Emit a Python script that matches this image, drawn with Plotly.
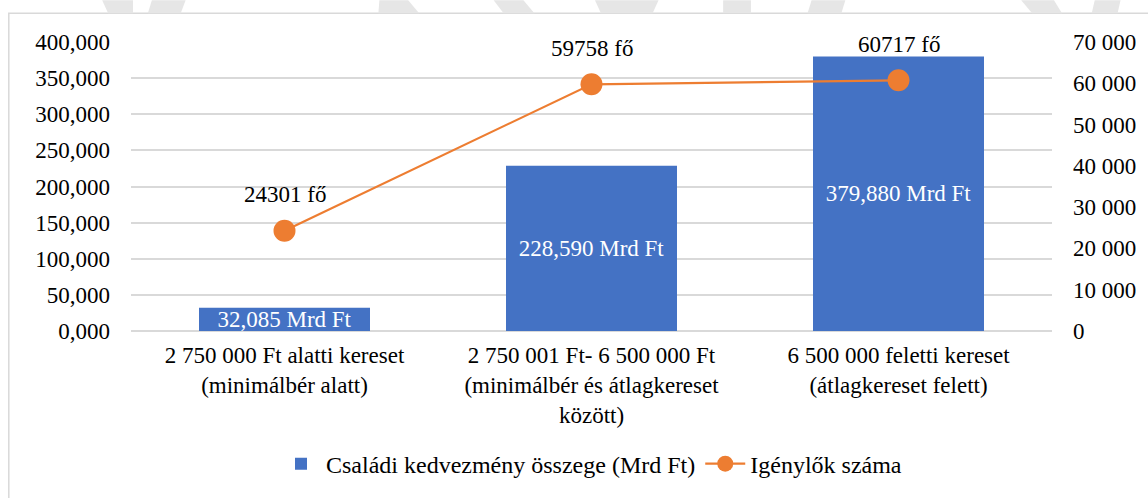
import plotly.graph_objects as go

# ---- data ----
categories = [
    "2 750 000 Ft alatti kereset<br>(minimálbér alatt)",
    "2 750 001 Ft- 6 500 000 Ft<br>(minimálbér és átlagkereset<br>között)",
    "6 500 000 feletti kereset<br>(átlagkereset felett)",
]
bar_values = [32.085, 228.590, 379.880]
bar_labels = ["32,085 Mrd Ft", "228,590 Mrd Ft", "379,880 Mrd Ft"]
line_values = [24301, 59758, 60717]
line_labels = ["24301 fő", "59758 fő", "60717 fő"]

left_tickvals = [0, 50, 100, 150, 200, 250, 300, 350, 400]
left_ticktext = ["0,000", "50,000", "100,000", "150,000", "200,000",
                 "250,000", "300,000", "350,000", "400,000"]
right_tickvals = [0, 10000, 20000, 30000, 40000, 50000, 60000, 70000]
right_ticktext = ["0", "10 000", "20 000", "30 000", "40 000",
                  "50 000", "60 000", "70 000"]

bar_name = "Családi kedvezmény összege (Mrd Ft)"
line_name = "Igénylők száma"

# ---- layout constants ----
W, H = 1148, 498
ML, MR, MT, MB = 131, 90, 42, 165
PW, PH = W - ML - MR, H - MT - MB
FONT = "Liberation Serif"
FS = 23


def px_x(x):
    return (x - ML) / PW


def px_y(y):
    return (H - MB - y) / PH


fig = go.Figure()
fig.add_trace(go.Bar(
    x=categories, y=bar_values, name=bar_name,
    marker=dict(color="#4472C4", line=dict(width=0)),
    text=bar_labels, textposition="inside", insidetextanchor="middle",
    textfont=dict(color="white", size=FS, family=FONT),
    width=0.557, yaxis="y", cliponaxis=False,
))
fig.add_trace(go.Scatter(
    x=categories, y=line_values, name=line_name, yaxis="y2",
    mode="lines+markers",
    line=dict(color="#ED7D31", width=2.2),
    marker=dict(color="#ED7D31", size=22),
    cliponaxis=False,
))

annotations = [
    dict(x=c, y=v, xref="x", yref="y2", text=t, showarrow=False,
         yshift=36, font=dict(size=FS, family=FONT, color="black"))
    for c, v, t in zip(categories, line_values, line_labels)
]

# decorative border and watermark fragments
shapes = [dict(type="rect", xref="paper", yref="paper",
               x0=px_x(8), x1=px_x(1160), y0=px_y(13), y1=px_y(510),
               line=dict(color="#d9d9d9", width=1.5), layer="below")]
blobs = [(102, 133, 108, 133), (152, 186, 148, 181), (381, 410, 380, 421),
         (496, 526, 506, 537), (598, 662, 604, 656), (727, 755, 727, 755),
         (816, 850, 812, 846), (1027, 1060, 1038, 1068), (1101, 1127, 1098, 1124)]
for a, b, c, d in blobs:
    path = "M {},{} L {},{} L {},{} L {},{} Z".format(
        px_x(a), px_y(0), px_x(b), px_y(0), px_x(d), px_y(13), px_x(c), px_y(13))
    shapes.append(dict(type="path", xref="paper", yref="paper", path=path,
                       fillcolor="#e6e6e6", line=dict(width=0), layer="below"))

fig.update_layout(
    width=W, height=H,
    margin=dict(l=ML, r=MR, t=MT, b=MB),
    paper_bgcolor="white", plot_bgcolor="white",
    font=dict(family=FONT, size=FS, color="black"),
    showlegend=True,
    legend=dict(orientation="h", x=0.5, xanchor="center",
                y=px_y(467), yanchor="middle",
                font=dict(size=24, family=FONT, color="black"),
                itemwidth=40, tracegroupgap=0),
    uniformtext=dict(minsize=FS, mode="show"),
    xaxis=dict(showgrid=False, showline=False, ticks="", ticklabelstandoff=8,
               tickfont=dict(size=FS, family=FONT, color="black")),
    yaxis=dict(range=[0, 400], tickvals=left_tickvals, ticktext=left_ticktext,
               showgrid=True, gridcolor="#d9d9d9", gridwidth=1.5,
               zeroline=True, zerolinecolor="#d9d9d9", zerolinewidth=1.5,
               showline=False, ticks="", ticklabelstandoff=20,
               tickfont=dict(size=FS, family=FONT, color="black")),
    yaxis2=dict(range=[0, 70000], tickvals=right_tickvals, ticktext=right_ticktext,
                overlaying="y", side="right", showgrid=False, zeroline=False,
                showline=False, ticks="", ticklabelstandoff=20,
                tickfont=dict(size=FS, family=FONT, color="black")),
    shapes=shapes,
    annotations=annotations,
    bargap=0.443,
)

fig.write_html("out.html", config={"displayModeBar": False},
               post_script="document.body.style.margin='0';document.body.style.overflow='hidden';")
